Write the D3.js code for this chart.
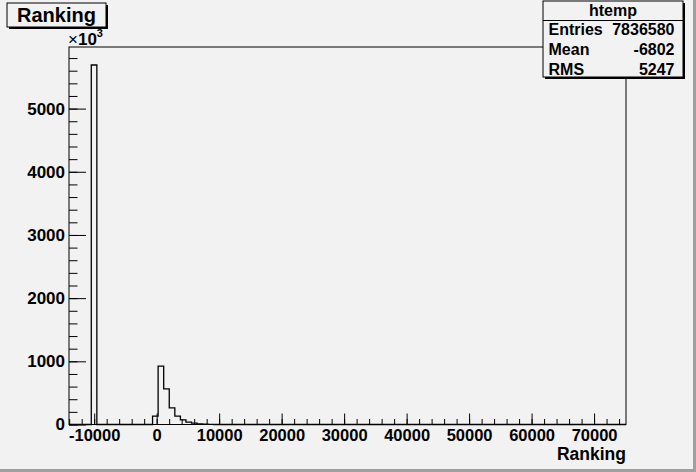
<!DOCTYPE html>
<html>
<head>
<meta charset="utf-8">
<script src="https://cdn.jsdelivr.net/npm/d3@7"></script>
<style>
  html, body { margin: 0; padding: 0; background: #f2f2f2; }
  svg { display: block; }
</style>
</head>
<body>
<script>
// ---- data ----
const histTitle = "Ranking";
const xAxisTitle = "Ranking";
const xRange = [-14030, 75110];          // histogram axis limits
const nBins = 100;
// non-empty bins: bin index and content (in units of 10^3 entries)
const binIndex = [4, 15, 16, 17, 18, 19, 20, 21, 22, 23, 24, 25];
const binContent = [5690, 133, 924, 565, 264, 133, 74, 38, 22, 10, 5, 2];
const yMax = 5975;
const xMajorTicks = [-10000, 0, 10000, 20000, 30000, 40000, 50000, 60000, 70000];
const yMajorTicks = [0, 1000, 2000, 3000, 4000, 5000];
const statsName = "htemp";
const statsLabels = ["Entries", "Mean", "RMS"];
const statsValues = ["7836580", "-6802", "5247"];

// ---- layout ----
const W = 696, H = 472;
const FONT = "Liberation Sans, Arial, sans-serif";
const frame = { left: 69, right: 626, top: 47, bottom: 424.5 };

const svg = d3.select("body").append("svg").attr("width", W).attr("height", H)
  .attr("font-family", FONT).attr("font-weight", "bold");

// canvas background & border
svg.append("rect").attr("x", 0).attr("y", 0).attr("width", W).attr("height", H).attr("fill", "#f2f2f2");
svg.append("rect").attr("x", 0).attr("y", H - 3).attr("width", W).attr("height", 3).attr("fill", "#a0a0a0");
svg.append("rect").attr("x", W - 3).attr("y", 0).attr("width", 3).attr("height", H).attr("fill", "#a0a0a0");

const x = d3.scaleLinear().domain(xRange).range([frame.left, frame.right]);
const y = d3.scaleLinear().domain([0, yMax]).range([frame.bottom, frame.top]);

// full bin contents
const counts = new Array(nBins).fill(0);
binIndex.forEach((b, i) => { counts[b] = binContent[i]; });
const bw = (xRange[1] - xRange[0]) / nBins;

// frame
svg.append("rect")
  .attr("x", frame.left).attr("y", frame.top)
  .attr("width", frame.right - frame.left).attr("height", frame.bottom - frame.top)
  .attr("fill", "#f2f2f2").attr("stroke", "#000").attr("stroke-width", 1);

// histogram outline
const pts = [];
pts.push([x(xRange[0]), y(0)]);
counts.forEach((c, i) => {
  const lo = xRange[0] + i * bw, hi = lo + bw;
  pts.push([x(lo), y(c)]);
  pts.push([x(hi), y(c)]);
});
pts.push([x(xRange[1]), y(0)]);
svg.append("path")
  .attr("d", d3.line()(pts))
  .attr("fill", "none").attr("stroke", "#000").attr("stroke-width", 1.3);

const fmt = d => String(d);

// x axis
const xMinor = d3.range(-14000, 75001, 2000).filter(v => v >= xRange[0] && v <= xRange[1]);
const gxm = svg.append("g").attr("transform", `translate(0,${frame.bottom})`)
  .call(d3.axisBottom(x).tickValues(xMinor).tickSizeInner(-5.5).tickSizeOuter(0).tickFormat(""));
const gx = svg.append("g").attr("transform", `translate(0,${frame.bottom})`)
  .call(d3.axisBottom(x).tickValues(xMajorTicks).tickSizeInner(-11).tickSizeOuter(0).tickPadding(5).tickFormat(fmt));
[gxm, gx].forEach(g => { g.select(".domain").remove(); g.selectAll("line").attr("stroke", "#000"); });
[gxm, gx].forEach(g => g.attr("font-family", FONT).attr("font-size", 16.5).attr("font-weight", "bold"));

// y axis
const yMinor = d3.range(0, yMax + 1, 200);
const gym = svg.append("g").attr("transform", `translate(${frame.left},0)`)
  .call(d3.axisLeft(y).tickValues(yMinor).tickSizeInner(-8.5).tickSizeOuter(0).tickFormat(""));
const gy = svg.append("g").attr("transform", `translate(${frame.left},0)`)
  .call(d3.axisLeft(y).tickValues(yMajorTicks).tickSizeInner(-17).tickSizeOuter(0).tickPadding(4).tickFormat(fmt));
[gym, gy].forEach(g => { g.select(".domain").remove(); g.selectAll("line").attr("stroke", "#000"); });
[gym, gy].forEach(g => g.attr("font-family", FONT).attr("font-size", 17).attr("font-weight", "bold"));

// exponent label
const ex = svg.append("text").attr("x", frame.left - 1).attr("y", 45).attr("font-size", 17);
ex.append("tspan").text("×").attr("font-weight", "normal");
ex.append("tspan").text("10");
ex.append("tspan").text("3").attr("font-size", 11).attr("dy", -8);

// axis title
svg.append("text").attr("x", frame.right).attr("y", 460).attr("text-anchor", "end")
  .attr("font-size", 17.5).text(xAxisTitle);

// title box
svg.append("rect").attr("x", 9).attr("y", 5).attr("width", 99).attr("height", 24).attr("fill", "#000");
svg.append("rect").attr("x", 7).attr("y", 3).attr("width", 99).attr("height", 24)
  .attr("fill", "#f2f2f2").attr("stroke", "#000").attr("stroke-width", 1);
svg.append("text").attr("x", 56.5).attr("y", 21.5).attr("text-anchor", "middle")
  .attr("font-size", 20).text(histTitle);

// stats box
const sb = { x: 543, y: 1, w: 140, h: 76 };
svg.append("rect").attr("x", sb.x + 2).attr("y", sb.y + 2).attr("width", sb.w).attr("height", sb.h).attr("fill", "#000");
svg.append("rect").attr("x", sb.x).attr("y", sb.y).attr("width", sb.w).attr("height", sb.h)
  .attr("fill", "#f2f2f2").attr("stroke", "#000").attr("stroke-width", 1);
svg.append("line").attr("x1", sb.x).attr("x2", sb.x + sb.w).attr("y1", 20.5).attr("y2", 20.5).attr("stroke", "#000");
svg.append("text").attr("x", sb.x + sb.w / 2).attr("y", 15.5).attr("text-anchor", "middle")
  .attr("font-size", 16).text(statsName);
const rowY = [35, 55, 74.5];
statsLabels.forEach((l, i) => {
  svg.append("text").attr("x", 548.5).attr("y", rowY[i]).attr("font-size", 16).text(l);
  svg.append("text").attr("x", 674.5).attr("y", rowY[i]).attr("text-anchor", "end").attr("font-size", 16).text(statsValues[i]);
});
</script>
</body>
</html>
